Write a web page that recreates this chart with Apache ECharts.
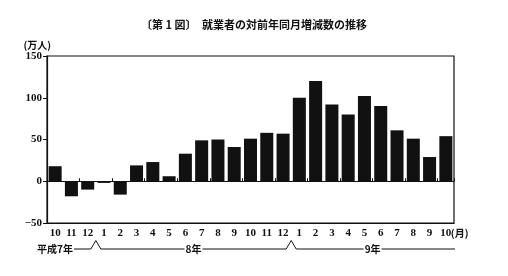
<!DOCTYPE html>
<html><head><meta charset="utf-8">
<script src="https://cdn.jsdelivr.net/npm/echarts@6/dist/echarts.min.js"></script>
<style>html,body{margin:0;padding:0;background:#fff}#c{width:508px;height:276px}</style>
</head><body><div id="c"></div>
<script>
const categories = ['10','11','12','1','2','3','4','5','6','7','8','9','10','11','12','1','2','3','4','5','6','7','8','9','10'];
const values = [18,-18,-10,-2,-16,19,23,6,33,49,50,41,51,58,57,100,120,92,80,102,90,61,51,29,54];
const yTicks = [-50,0,50,100,150];
const yearLabels = ['平成7年','8年','9年'];
const yearStartIdx = [0,3,15];
const titleText = '〔第 1 図〕　就業者の対前年同月増減数の推移';

const CJK = '"Noto Sans CJK JP", sans-serif';
const NUM = '"Liberation Serif", serif';
const chart = echarts.init(document.getElementById('c'), null, {renderer:'canvas'});
chart.setOption({
  animation:false,
  backgroundColor:'#fff',
  title:{text:titleText,left:'center',top:14,textStyle:{fontFamily:CJK,fontSize:11,fontWeight:'bold',color:'#111'}},
  grid:{left:47,right:54,top:56,bottom:53,show:true,borderColor:'#111',borderWidth:1.2,backgroundColor:'transparent'},
  xAxis:[
    {type:'category',data:categories,position:'bottom',
     axisLine:{onZero:false,lineStyle:{color:'#111',width:1.2}},
     axisTick:{show:false},
     axisLabel:{margin:5,color:'#111',fontFamily:NUM,fontWeight:'bold',fontSize:11,interval:0},
     splitLine:{show:false}},
    {type:'category',data:categories,position:'top',
     axisLine:{onZero:true,lineStyle:{color:'#111',width:1.2}},
     axisTick:{show:true,inside:false,length:3,lineStyle:{color:'#111'}},
     axisLabel:{show:false},splitLine:{show:false}}
  ],
  yAxis:{type:'value',min:yTicks[0],max:yTicks[yTicks.length-1],interval:50,
    name:'(万人)',nameLocation:'end',nameGap:5,
    nameTextStyle:{fontFamily:CJK,fontSize:10,fontWeight:'bold',color:'#111',align:'right',padding:[0,-4,0,0]},
    axisLine:{show:true,lineStyle:{color:'#111',width:1.2}},
    axisTick:{show:true,length:4,lineStyle:{color:'#111'}},
    axisLabel:{margin:5,color:'#111',fontFamily:NUM,fontWeight:'bold',fontSize:11,
      formatter:v=>v<0?'−'+Math.abs(v):String(v)},
    splitLine:{show:false}},
  series:[{type:'bar',data:values,xAxisIndex:0,barCategoryGap:'20%',itemStyle:{color:'#111'}}]
});

// year bracket below the month labels
const centers = categories.map((c,i)=>chart.convertToPixel({xAxisIndex:0},i));
const step = centers[1]-centers[0];
const leftEdge = centers[0]-step/2, rightEdge = centers[centers.length-1]+step/2;
const bnd = yearStartIdx.slice(1).map(i=>centers[i]-step/2);
const ly = 249, peak = 240.5, hw = 5;
const g = [];
const txt = (s,x,align)=>({type:'text',left:null,x:x,y:ly,style:{text:s,fontFamily:CJK,fontSize:10,fontWeight:'bold',fill:'#111',align:align,verticalAlign:'middle'}});
const line = (x1,x2)=>({type:'line',shape:{x1:x1,y1:ly,x2:x2,y2:ly},style:{stroke:'#111',lineWidth:1}});
const caret = (b)=>({type:'polyline',shape:{points:[[b-hw,ly],[b,peak],[b+hw,ly]]},style:{stroke:'#111',lineWidth:1,fill:null}});
// segment 1
const t1End = leftEdge+26;
g.push(txt(yearLabels[0],t1End,'right'));
g.push(line(t1End+1,bnd[0]-hw));
g.push(caret(bnd[0]));
// segment 2
const m2 = (bnd[0]+bnd[1])/2;
g.push(line(bnd[0]+hw,m2-9));
g.push(txt(yearLabels[1],m2,'center'));
g.push(line(m2+9,bnd[1]-hw));
g.push(caret(bnd[1]));
// segment 3
const m3 = (bnd[1]+rightEdge)/2;
g.push(line(bnd[1]+hw,m3-9));
g.push(txt(yearLabels[2],m3,'center'));
g.push(line(m3+9,rightEdge+1));
// (月) after last month label
g.push({type:'text',x:centers[centers.length-1]+5,y:233,style:{text:'(月)',fontFamily:CJK,fontSize:10,fontWeight:'bold',fill:'#111',align:'left',verticalAlign:'middle'}});
chart.setOption({graphic:g});
</script></body></html>
